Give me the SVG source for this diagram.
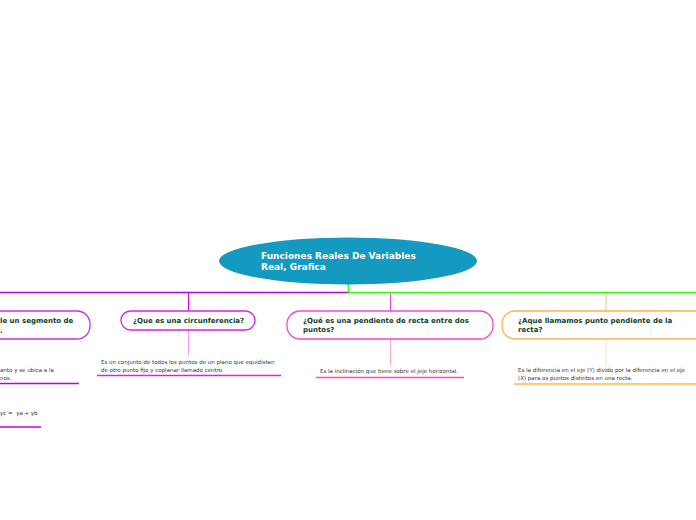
<svg xmlns="http://www.w3.org/2000/svg" width="696" height="520" viewBox="0 0 696 520">
<style>
.t{font-family:"DejaVu Sans",Verdana,sans-serif;font-weight:bold;font-size:7px;fill:#0b3d2e}
.b{font-family:"DejaVu Sans",Verdana,sans-serif;font-size:5.5px;fill:#333;white-space:pre}
.n{fill:#fff;stroke-width:1.3}
</style>
<rect width="696" height="520" fill="#fff"/>
<g id="connectors" fill="none">
<line x1="348.5" y1="284" x2="348.5" y2="293" stroke="#33ff00" stroke-width="1.5"/>
<line x1="0" y1="292.5" x2="349" y2="292.5" stroke="#b400f0" stroke-width="1.5"/>
<line x1="348" y1="292.5" x2="696" y2="292.5" stroke="#33ff00" stroke-width="1.5"/>
<line x1="188.5" y1="293" x2="188.5" y2="311" stroke="#e000e0" stroke-width="1"/>
<line x1="390.5" y1="293" x2="390.5" y2="311" stroke="#ff44cc" stroke-width="1"/>
<line x1="606" y1="293" x2="606" y2="311" stroke="#ffc070" stroke-width="1"/>
<line x1="188.5" y1="330" x2="188.5" y2="356" stroke="#f4a0f0" stroke-width="1"/>
<line x1="390.5" y1="339" x2="390.5" y2="365" stroke="#ffa8dc" stroke-width="1"/>
<line x1="606" y1="339" x2="606" y2="365" stroke="#ffdcb8" stroke-width="1"/>
</g>
<g id="root">
<ellipse cx="348" cy="261" rx="129" ry="23.5" fill="#1499c0"/>
<text x="261" y="259" font-family="DejaVu Sans,Verdana,sans-serif" font-weight="bold" font-size="9" fill="#fff">Funciones Reales De Variables</text>
<text x="261" y="270" font-family="DejaVu Sans,Verdana,sans-serif" font-weight="bold" font-size="9" fill="#fff">Real, Grafica</text>
</g>
<g id="node-segmento">
<rect class="n" x="-20" y="311" width="110" height="28" rx="13" stroke="#c030f0"/>
<text class="t" x="0" y="323">le un segmento de</text>
<text class="t" x="0" y="333">.</text>
<text class="b" x="0" y="372">anto y se ubica a la</text>
<text class="b" x="0" y="380">nos.</text>
<line x1="0" y1="383.5" x2="79" y2="383.5" stroke="#c000e8" stroke-width="1.3"/>
<text class="b" x="0" y="415" xml:space="preserve">yc =  ya + yb</text>
<line x1="0" y1="427" x2="41" y2="427" stroke="#c000e8" stroke-width="1.3"/>
</g>
<g id="node-circunferencia">
<rect class="n" x="121" y="311" width="134" height="19" rx="9.5" stroke="#e020e0"/>
<text class="t" x="133" y="323">¿Que es una circunferencia?</text>
<text class="b" x="101" y="364">Es un conjunto de todos los puntos de un plano que equidistan</text>
<text class="b" x="101" y="372">de otro punto fijo y coplanar llamado centro</text>
<line x1="97" y1="375.5" x2="281" y2="375.5" stroke="#e020e0" stroke-width="1.3"/>
</g>
<g id="node-pendiente">
<rect class="n" x="287" y="311" width="206" height="28" rx="13" stroke="#ff44cc"/>
<text class="t" x="303" y="323">¿Qué es una pendiente de recta entre dos</text>
<text class="t" x="303" y="332">puntos?</text>
<text class="b" x="320" y="373">Es la inclinación que tiene sobre el jeje horizontal.</text>
<line x1="316" y1="377.5" x2="464" y2="377.5" stroke="#ff44cc" stroke-width="1.3"/>
</g>
<g id="node-punto-pendiente">
<rect class="n" x="502" y="311" width="220" height="28" rx="13" stroke="#ffb347"/>
<text class="t" x="518" y="323">¿Aque llamamos punto pendiente de la</text>
<text class="t" x="518" y="332">recta?</text>
<text class="b" x="518" y="372">Es la diferencia en el eje (Y) divido por la diferencia en el eje</text>
<text class="b" x="518" y="380">(X) para os puntos distintos en una recta.</text>
<line x1="514" y1="384" x2="696" y2="384" stroke="#ffb347" stroke-width="1.5"/>
</g>
</svg>
